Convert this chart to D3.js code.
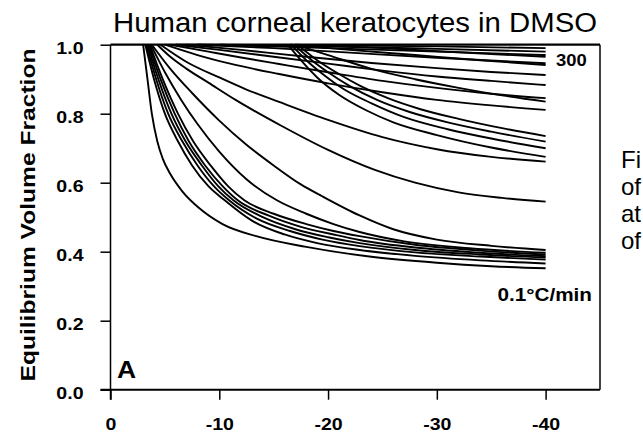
<!DOCTYPE html>
<html><head><meta charset="utf-8">
<script src="https://cdn.jsdelivr.net/npm/d3@7"></script>
<style>body{margin:0;background:#fff}svg{display:block}text{font-family:"Liberation Sans",Arial,sans-serif}</style>
</head><body><svg id="c" width="643" height="435"></svg>
<script>
const xTicks = [0, -10, -20, -30, -40];
const yTicks = [0.0, 0.2, 0.4, 0.6, 0.8, 1.0];
const titleText = "Human corneal keratocytes in DMSO";
const yTitle = "Equilibrium Volume Fraction";
const sideText = ["Fi", "of", "at", "of"];
// curves: [temperature °C, volume fraction]
const cA1 = [[-3.0,1],[-3.4,0.9],[-3.8,0.8],[-4.3,0.72],[-4.8,0.67],[-5.5,0.625],[-6.6,0.575],[-8.2,0.525],[-10.3,0.48],[-13.4,0.445],[-18,0.414],[-23.8,0.386],[-30,0.368],[-35,0.358],[-40,0.352]];
const cA2 = [[-3.2,1],[-4,0.9],[-5,0.8],[-6.2,0.72],[-7.5,0.65],[-9,0.59],[-10.5,0.549],[-13,0.49],[-16,0.45],[-19,0.425],[-22.9,0.405],[-28,0.388],[-34,0.375],[-40,0.366]];
const cA3 = [[-3.3,1],[-4.2,0.9],[-5.3,0.8],[-6.6,0.72],[-8,0.65],[-9.5,0.59],[-10.9,0.549],[-13.5,0.495],[-16.5,0.46],[-19.5,0.435],[-22.9,0.416],[-28,0.398],[-34,0.386],[-40,0.377]];
const cA4 = [[-3.4,1],[-4.4,0.9],[-5.6,0.8],[-6.9,0.72],[-8.4,0.65],[-9.9,0.59],[-11.3,0.549],[-14,0.5],[-17,0.465],[-20,0.442],[-22.9,0.425],[-28,0.405],[-34,0.392],[-40,0.383]];
const cA5 = [[-3.5,1],[-4.6,0.9],[-5.9,0.8],[-7.2,0.72],[-8.7,0.65],[-10.3,0.59],[-11.7,0.549],[-14.5,0.505],[-17.5,0.472],[-20.5,0.45],[-22.9,0.434],[-28,0.412],[-34,0.397],[-40,0.387]];
const cA6 = [[-3.6,1],[-4.8,0.9],[-6.2,0.8],[-7.6,0.72],[-9.2,0.65],[-10.8,0.59],[-12.3,0.549],[-15,0.51],[-18,0.48],[-20.5,0.46],[-22.9,0.445],[-28,0.42],[-34,0.403],[-40,0.392]];
const cA7 = [[-3.7,1],[-5,0.92],[-6.5,0.84],[-8,0.77],[-10,0.69],[-12.5,0.61],[-15.3,0.549],[-18,0.51],[-20.5,0.48],[-22.9,0.457],[-27,0.43],[-33,0.41],[-40,0.397]];
const cA8 = [[-3.8,1],[-5.5,0.93],[-7.5,0.86],[-10,0.78],[-12.5,0.71],[-15,0.65],[-17.5,0.595],[-19.5,0.56],[-22.9,0.505],[-26,0.465],[-30,0.435],[-35,0.417],[-40,0.405]];
const cA9 = [[-4.3,1],[-5.5,0.965],[-7,0.93],[-9,0.89],[-11.5,0.84],[-15.7,0.765],[-20,0.695],[-24.3,0.637],[-28,0.6],[-32,0.572],[-36,0.556],[-40,0.545]];
const cA10 = [[-4.6,1],[-7,0.95],[-10,0.905],[-12.5,0.87],[-15.5,0.834],[-20,0.782],[-25,0.732],[-30,0.697],[-35,0.675],[-40,0.661]];
const cA11 = [[-5,1],[-8,0.97],[-11,0.945],[-15.5,0.915],[-20,0.888],[-25,0.862],[-30,0.84],[-35,0.824],[-40,0.811]];
const cA12 = [[-5.5,1],[-9,0.98],[-12,0.963],[-15.5,0.944],[-20,0.92],[-25,0.895],[-30,0.875],[-35,0.858],[-40,0.845]];
const cA13 = [[-6,1],[-10,0.985],[-15,0.965],[-20,0.945],[-25,0.925],[-30,0.908],[-35,0.895],[-40,0.883]];
const cA14 = [[-7,1],[-12,0.985],[-18,0.965],[-24,0.947],[-30,0.932],[-35,0.921],[-40,0.912]];
const cA15 = [[-8,1],[-15,0.99],[-22,0.977],[-30,0.962],[-40,0.946]];
const cA16 = [[-10,1],[-20,0.99],[-30,0.98],[-40,0.97]];
const cA17 = [[-8,1],[-20,0.995],[-30,0.988],[-40,0.98]];
const cA18 = [[-6,1],[-20,0.998],[-30,0.995],[-40,0.99]];
const cB1 = [[-16.3,1],[-17.5,0.955],[-19,0.905],[-21,0.855],[-23.5,0.81],[-26,0.775],[-30,0.738],[-35,0.702],[-40,0.675]];
const cB2 = [[-16.6,1],[-18,0.955],[-19.5,0.915],[-21.5,0.87],[-24,0.83],[-27,0.79],[-31,0.755],[-35,0.728],[-40,0.7]];
const cB3 = [[-16.9,1],[-18.5,0.955],[-20,0.92],[-22,0.88],[-24.5,0.84],[-27.5,0.805],[-31,0.775],[-35,0.748],[-40,0.719]];
const cB4 = [[-17.2,1],[-19,0.955],[-21,0.915],[-23,0.88],[-25.5,0.845],[-28.5,0.813],[-32,0.785],[-36,0.758],[-40,0.735]];
const cB5 = [[-17,1],[-20,0.97],[-24,0.93],[-28,0.9],[-32,0.875],[-36,0.853],[-40,0.835]];
const cB6 = [[-16.5,1],[-22,0.985],[-28,0.97],[-34,0.955],[-40,0.941]];
const cB7 = [[-17,1],[-25,0.99],[-32,0.978],[-40,0.965]];
const curves = [cA1,cA2,cA3,cA4,cA5,cA6,cA7,cA8,cA9,cA10,cA11,cA12,cA13,cA14,cA15,cA16,cA17,cA18,cB1,cB2,cB3,cB4,cB5,cB6,cB7];

const svg = d3.select("#c");
const x = d3.scaleLinear().domain([0, -45]).range([110.5, 600]);
const y = d3.scaleLinear().domain([0, 1]).range([389.7, 44.7]);
const STRETCH = 1.15;
function stretch(sel, k = STRETCH) {
  sel.each(function () {
    const w = this.getComputedTextLength();
    d3.select(this).attr("textLength", w * k).attr("lengthAdjust", "spacingAndGlyphs");
  });
}

const line = d3.line().x(d => x(d[0])).y(d => y(d[1])).curve(d3.curveMonotoneX);
svg.append("g").selectAll("path").data(curves).join("path")
  .attr("d", line).attr("fill", "none").attr("stroke", "#000").attr("stroke-width", 1.9);

// frame
svg.append("line").attr("x1", x(0)).attr("x2", x(-45)).attr("y1", y(1)).attr("y2", y(1)).attr("stroke", "#000").attr("stroke-width", 2.2);
svg.append("line").attr("x1", x(-45)).attr("x2", x(-45)).attr("y1", y(1)).attr("y2", y(0)).attr("stroke", "#000").attr("stroke-width", 1.5);

const xAxis = d3.axisBottom(x).tickValues(xTicks).tickSize(10).tickSizeOuter(0).tickFormat(d => String(d));
const gx = svg.append("g").attr("transform", `translate(0,${y(0)})`).call(xAxis);
gx.select(".domain").attr("stroke-width", 2).attr("d", `M${x(0)-10},0H${x(-45)}`);
gx.selectAll(".tick line").attr("stroke-width", 1.5);
gx.selectAll("text").attr("font-size", 17).attr("font-weight", "bold").attr("dy", null).attr("y", 40).attr("fill", "#000").call(stretch);

const yAxis = d3.axisLeft(y).tickValues(yTicks).tickSize(10).tickSizeOuter(0).tickFormat(d3.format(".1f"));
const gy = svg.append("g").attr("transform", `translate(${x(0)},0)`).call(yAxis);
gy.select(".domain").attr("stroke-width", 1.5).attr("d", `M0,${y(1)}V${y(0)+10}`);
gy.selectAll(".tick line").attr("stroke-width", 1.5);
gy.selectAll("text").attr("font-size", 17).attr("font-weight", "bold").attr("x", -27).attr("dy", "0.5em").attr("fill", "#000").call(stretch);

svg.append("text").attr("x", 113).attr("y", 32).attr("font-size", 27).attr("textLength", 484).attr("lengthAdjust", "spacingAndGlyphs").text(titleText);
svg.append("text").attr("transform", "translate(35,215) rotate(-90)").attr("text-anchor", "middle")
  .attr("font-size", 21).attr("font-weight", "bold").attr("textLength", 333).attr("lengthAdjust", "spacingAndGlyphs").text(yTitle);

svg.append("text").attr("x", 556).attr("y", 66).attr("font-size", 16).attr("font-weight", "bold").text("300").call(stretch);
svg.append("text").attr("x", 592).attr("y", 301).attr("text-anchor", "end").attr("font-size", 18).attr("font-weight", "bold").text("0.1°C/min").call(stretch);
svg.append("text").attr("x", 117).attr("y", 378).attr("font-size", 23).attr("font-weight", "bold").text("A").call(stretch);

svg.append("g").selectAll("text").data(sideText).join("text")
  .attr("x", 621).attr("y", (d, i) => 168 + i * 27).attr("font-size", 24).text(d => d);
</script></body></html>
